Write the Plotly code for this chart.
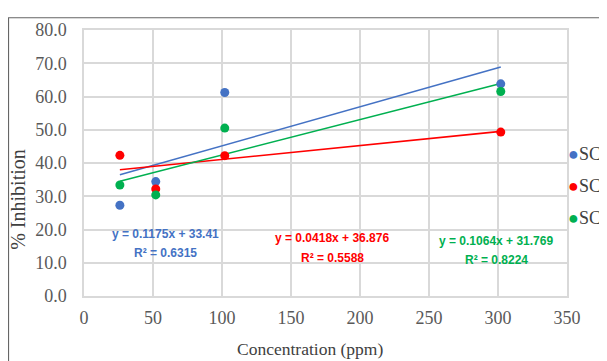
import plotly.graph_objects as go

# ---- data ----
conc = [26, 52, 102, 302]
sc1 = [27.3, 34.4, 61.2, 63.8]
sc2 = [42.3, 32.2, 42.2, 49.3]
sc3 = [33.4, 30.4, 50.5, 61.5]
series_names = ["SC1", "SC2", "SC3"]
slopes = [0.1175, 0.0418, 0.1064]
intercepts = [33.41, 36.876, 31.769]
r2_values = [0.6315, 0.5588, 0.8224]
y_ticks = [0, 10, 20, 30, 40, 50, 60, 70, 80]
x_ticks = [0, 50, 100, 150, 200, 250, 300, 350]

colors = ["#4472C4", "#FF0000", "#00B050"]
series = [sc1, sc2, sc3]

OFF = 8  # page body margin
W, H = 607 - OFF, 361 - OFF
L, R, T, B = 84 - OFF, 40, 25 - OFF, 65
pw, ph = W - L - R, H - T - B

def px_x(p):  # page pixel -> paper coordinate
    return (p - OFF - L) / pw

def px_y(p):
    return (H - B - (p - OFF)) / ph

fig = go.Figure()

# trendlines
xs = [min(conc), max(conc)]
for name, m, b, c in zip(series_names, slopes, intercepts, colors):
    fig.add_trace(go.Scatter(x=xs, y=[m * v + b for v in xs], mode="lines",
                             line=dict(color=c, width=1.6), showlegend=False,
                             hoverinfo="skip"))

# points
for name, ys, c in zip(series_names, series, colors):
    fig.add_trace(go.Scatter(x=conc, y=ys, mode="markers", name=name,
                             marker=dict(color=c, size=9), showlegend=False))

serif = "Liberation Serif"
tick_font = dict(family=serif, size=18, color="#595959")

fig.update_xaxes(range=[0, 350], tickvals=x_ticks, ticktext=[str(v) for v in x_ticks],
                 showgrid=True, gridcolor="#D9D9D9", gridwidth=1.5,
                 showline=True, linecolor="#D9D9D9", linewidth=1.5, mirror=True,
                 zeroline=False, tickfont=tick_font, ticks="", ticklabelstandoff=5)
fig.update_yaxes(range=[0, 80], tickvals=y_ticks, ticktext=[f"{v:.1f}" for v in y_ticks],
                 showgrid=True, gridcolor="#D9D9D9", gridwidth=1.5,
                 showline=True, linecolor="#D9D9D9", linewidth=1.5, mirror=True,
                 zeroline=False, tickfont=tick_font, ticks="", ticklabelstandoff=12)

annotations = []
eq_font = "Liberation Sans"
eq_pos = [(58.7, 18.6, 13.0), (179.8, 17.4, 11.5), (298.8, 16.5, 10.9)]
for (xc, y1, y2), m, b, r2, c in zip(eq_pos, slopes, intercepts, r2_values, colors):
    annotations.append(dict(x=xc, y=y1, xref="x", yref="y", showarrow=False,
                            xanchor="center", yanchor="middle",
                            text=f"y = {m}x + {b}",
                            font=dict(family=eq_font, size=12, color=c, weight="bold")))
    annotations.append(dict(x=xc, y=y2, xref="x", yref="y", showarrow=False,
                            xanchor="center", yanchor="middle",
                            text=f"R² = {r2}",
                            font=dict(family=eq_font, size=12, color=c, weight="bold")))

# axis titles
annotations.append(dict(x=px_x(310), y=px_y(350), xref="paper", yref="paper", showarrow=False,
                        xanchor="center", yanchor="middle",
                        text="Concentration (ppm)", font=dict(family=serif, size=17.5, color="#404040")))
annotations.append(dict(x=px_x(18), y=px_y(198), xref="paper", yref="paper", showarrow=False,
                        xanchor="center", yanchor="middle",
                        text="% Inhibition", textangle=-90,
                        font=dict(family=serif, size=20, color="#404040")))

# legend (as text)
for name, c, py in zip(series_names, colors, [151, 184, 217]):
    annotations.append(dict(x=px_x(566), y=px_y(py), xref="paper", yref="paper", showarrow=False,
                            xanchor="left", yanchor="middle",
                            text=f"<span style='color:{c}'>●</span>{name}",
                            font=dict(family=serif, size=18, color="#404040")))

fig.update_layout(
    width=W, height=H,
    font=dict(family=serif, color="#595959"),
    margin=dict(l=L, r=R, t=T, b=B, pad=0),
    paper_bgcolor="white", plot_bgcolor="white",
    showlegend=False,
    annotations=annotations,
    shapes=[dict(type="rect", xref="paper", yref="paper",
                 x0=px_x(8.5), x1=px_x(700), y0=px_y(500), y1=px_y(12.5),
                 line=dict(color="#666666", width=1.2), layer="below")],
)

fig.write_html("out.html")
